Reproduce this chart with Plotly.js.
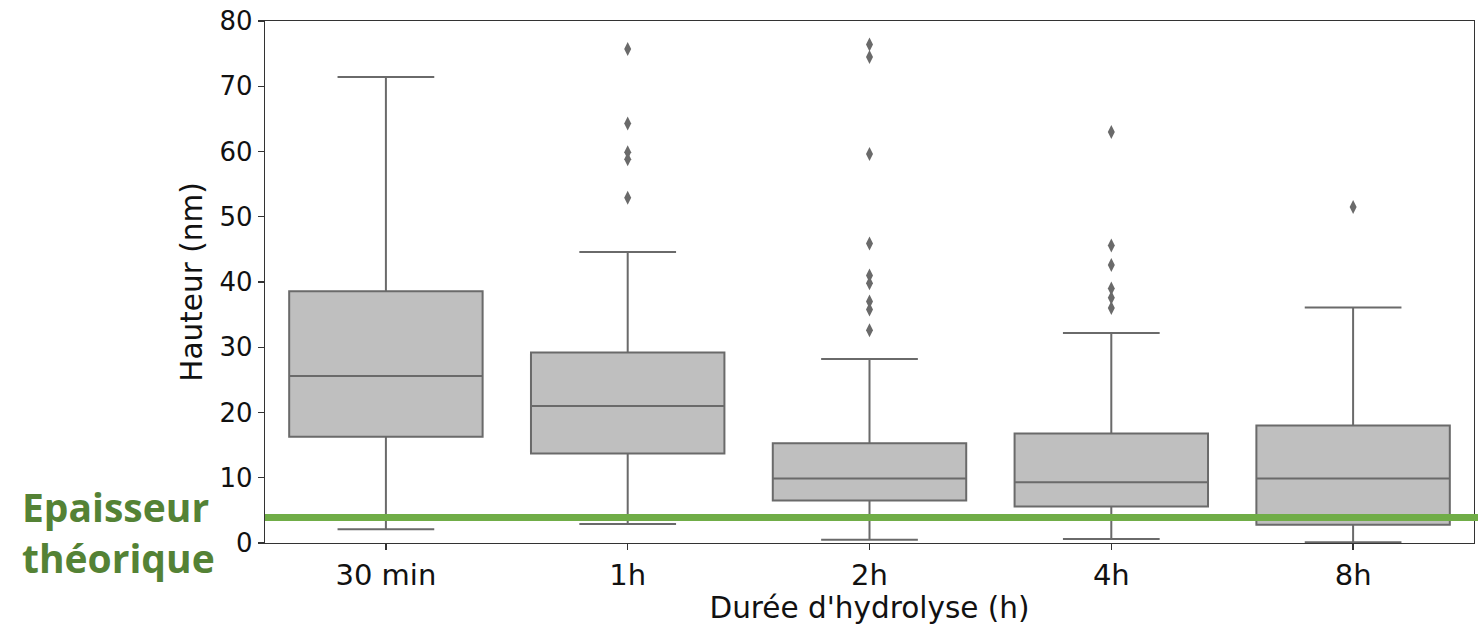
<!DOCTYPE html>
<html>
<head>
<meta charset="utf-8">
<script src="https://cdn.plot.ly/plotly-3.0.1.min.js"></script>
<style>
  html, body { margin: 0; padding: 0; background: #ffffff; }
  #chart { width: 1478px; height: 625px; }
</style>
</head>
<body>
<div id="chart"></div>
<script>
// Hydrolysis durations (x categories)
const durations = ["30 min", "1h", "2h", "4h", "8h"];

// Box statistics of particle height (nm) for each duration
const lowerFence = [2.1, 2.9, 0.5, 0.6, 0.1];
const q1 = [16.3, 13.7, 6.5, 5.6, 2.8];
const median = [25.6, 21.0, 9.9, 9.3, 9.9];
const q3 = [38.6, 29.2, 15.3, 16.8, 18.0];
const upperFence = [71.4, 44.6, 28.2, 32.2, 36.1];

// Outlying heights (nm), listed per duration
const outliers30min = [];
const outliers1h = [75.7, 64.3, 59.9, 58.8, 52.9];
const outliers2h = [76.4, 74.5, 59.6, 45.9, 41.0, 39.8, 37.0, 35.8, 32.6];
const outliers4h = [63.0, 45.6, 42.6, 39.0, 37.6, 36.0];
const outliers8h = [51.5];

// Theoretical thickness reference (nm)
const theoreticalThickness = 3.9;

const outlierGroups = [outliers30min, outliers1h, outliers2h, outliers4h, outliers8h];
const outX = [], outY = [];
outlierGroups.forEach((vals, i) => {
  vals.forEach(v => { outX.push(durations[i]); outY.push(v); });
});

const grey = "#6a6a6a";

const boxes = {
  type: "box",
  x: durations,
  q1: q1,
  median: median,
  q3: q3,
  lowerfence: lowerFence,
  upperfence: upperFence,
  boxpoints: false,
  width: 0.8,
  whiskerwidth: 0.5,
  fillcolor: "#bfbfbf",
  line: { color: grey, width: 2 },
  hoverinfo: "skip",
  showlegend: false
};

const points = {
  type: "scatter",
  mode: "markers",
  x: outX,
  y: outY,
  marker: { symbol: "diamond-tall", size: 10, color: grey, line: { width: 0 } },
  hoverinfo: "skip",
  showlegend: false
};

const textColor = "#111111";

const layout = {
  width: 1478,
  height: 625,
  margin: { l: 265, r: 4, t: 21, b: 82 },
  paper_bgcolor: "#ffffff",
  plot_bgcolor: "#ffffff",
  showlegend: false,
  xaxis: {
    type: "category",
    range: [-0.5, 4.5],
    showline: true, mirror: true, linecolor: "#333333", linewidth: 1.3,
    ticks: "outside", ticklen: 6, tickwidth: 1.3, tickcolor: "#333333",
    showgrid: false, zeroline: false,
    tickfont: { family: "DejaVu Sans", size: 29, color: textColor },
    title: { text: "Durée d'hydrolyse (h)", font: { family: "DejaVu Sans", size: 29.5, color: textColor }, standoff: 3 }
  },
  yaxis: {
    range: [0, 80],
    tickmode: "linear", tick0: 0, dtick: 10,
    showline: true, mirror: true, linecolor: "#333333", linewidth: 1.3,
    ticks: "outside", ticklen: 6, tickwidth: 1.3, tickcolor: "#333333",
    showgrid: false, zeroline: false,
    tickfont: { family: "DejaVu Sans", size: 26, color: textColor },
    title: { text: "Hauteur (nm)", font: { family: "DejaVu Sans", size: 29.5, color: textColor }, standoff: 8 }
  },
  shapes: [{
    type: "line",
    xref: "paper", yref: "y",
    x0: 0, x1: 1.004,
    y0: theoreticalThickness, y1: theoreticalThickness,
    line: { color: "#70ad47", width: 7 },
    layer: "above"
  }],
  annotations: [{
    xref: "paper", yref: "paper",
    x: -0.203, y: 0.022,
    xanchor: "left", yanchor: "middle",
    align: "left",
    showarrow: false,
    text: "<b>Epaisseur<br>théorique</b>",
    font: { family: "Open Sans", size: 39, color: "#548235" }
  }]
};

Plotly.newPlot("chart", [boxes, points], layout, { displayModeBar: false, staticPlot: true });
</script>
</body>
</html>
